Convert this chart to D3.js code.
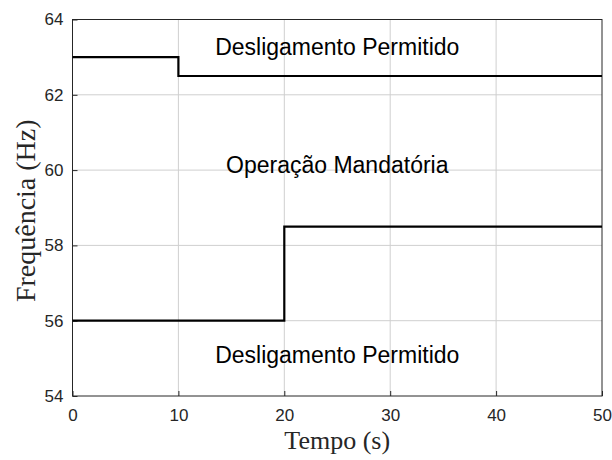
<!DOCTYPE html>
<html>
<head>
<meta charset="utf-8">
<script src="https://cdn.jsdelivr.net/npm/d3@7"></script>
<style>
  body { margin: 0; background: #fff; }
  .tick text { font-family: "Liberation Sans", Arial, sans-serif; font-size: 17px; fill: #262626; }
</style>
</head>
<body>
<div id="chart"></div>
<script>
// limits
let upperTime = [0, 10, 10, 50];
let upperFreq = [63, 63, 62.5, 62.5];
let lowerTime = [0, 20, 20, 50];
let lowerFreq = [56, 56, 58.5, 58.5];

let xTicks = [0, 10, 20, 30, 40, 50];
let yTicks = [54, 56, 58, 60, 62, 64];

let labelText = ["Desligamento Permitido", "Operação Mandatória", "Desligamento Permitido"];
let labelX = [25, 25, 25];
let labelY = [63.27, 60.14, 55.09];

let width = 612, height = 460;
let margin = { top: 19.5, right: 10, bottom: 64, left: 72.5 };
let w = width - margin.left - margin.right;
let h = height - margin.top - margin.bottom;

let svg = d3.select("#chart").append("svg")
    .attr("width", width)
    .attr("height", height);

let x = d3.scaleLinear().domain([0, 50]).range([0, w]);
let y = d3.scaleLinear().domain([54, 64]).range([h, 0]);

let g = svg.append("g")
    .attr("transform", "translate(" + margin.left + "," + margin.top + ")");

// grid
g.append("g").selectAll("line").data(xTicks.slice(1, -1)).enter().append("line")
    .attr("x1", d => x(d)).attr("x2", d => x(d))
    .attr("y1", 0).attr("y2", h)
    .attr("stroke", "#cfcfcf").attr("stroke-width", 1);
g.append("g").selectAll("line").data(yTicks.slice(1, -1)).enter().append("line")
    .attr("y1", d => y(d)).attr("y2", d => y(d))
    .attr("x1", 0).attr("x2", w)
    .attr("stroke", "#cfcfcf").attr("stroke-width", 1);

// axes (ticks pointing inward)
let xAxis = g.append("g")
    .attr("transform", "translate(0," + h + ")")
    .call(d3.axisBottom(x).tickValues(xTicks).tickSizeInner(-5).tickSizeOuter(0));
let yAxis = g.append("g")
    .call(d3.axisLeft(y).tickValues(yTicks).tickSizeInner(-5).tickSizeOuter(0).tickPadding(9));
[xAxis, yAxis].forEach(a => {
    a.select(".domain").remove();
    a.selectAll(".tick line").attr("stroke", "#262626");
});
xAxis.selectAll(".tick text").attr("dy", "0.71em").attr("y", 13);

// box
g.append("rect")
    .attr("x", 0).attr("y", 0).attr("width", w).attr("height", h)
    .attr("fill", "none").attr("stroke", "#262626").attr("stroke-width", 1);

// limit lines
let line = d3.line().x(d => x(d[0])).y(d => y(d[1]));
g.append("path")
    .attr("d", line(d3.zip(upperTime, upperFreq)))
    .attr("fill", "none").attr("stroke", "#000").attr("stroke-width", 2.2);
g.append("path")
    .attr("d", line(d3.zip(lowerTime, lowerFreq)))
    .attr("fill", "none").attr("stroke", "#000").attr("stroke-width", 2.2);

// region labels
g.selectAll(".region").data(labelText).enter().append("text")
    .attr("class", "region")
    .attr("x", (d, i) => x(labelX[i]))
    .attr("y", (d, i) => y(labelY[i]))
    .attr("dy", "0.36em")
    .attr("text-anchor", "middle")
    .style("font-family", "'Liberation Sans', Arial, sans-serif")
    .style("font-size", "23px")
    .attr("fill", "#000")
    .text(d => d);

// axis titles
svg.append("text")
    .attr("x", margin.left + w / 2)
    .attr("y", 449)
    .attr("text-anchor", "middle")
    .style("font-family", "'Liberation Serif', 'Times New Roman', serif")
    .style("font-size", "26px")
    .attr("fill", "#262626")
    .text("Tempo (s)");

svg.append("text")
    .attr("transform", "translate(35," + (margin.top + h / 2 + 3) + ") rotate(-90)")
    .attr("text-anchor", "middle")
    .style("font-family", "'Liberation Serif', 'Times New Roman', serif")
    .style("font-size", "28px")
    .attr("fill", "#262626")
    .text("Frequência (Hz)");
</script>
</body>
</html>
